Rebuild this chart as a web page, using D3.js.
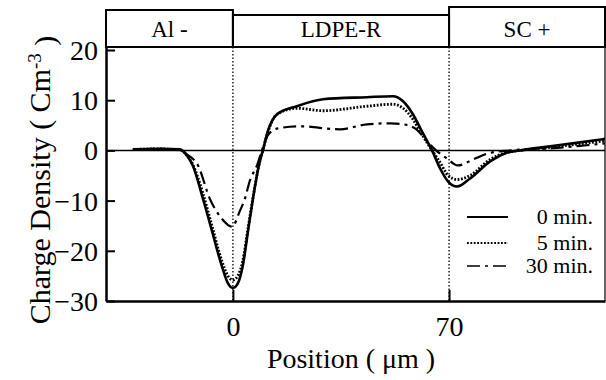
<!DOCTYPE html>
<html>
<head>
<meta charset="utf-8">
<script src="https://cdn.jsdelivr.net/npm/d3@7"></script>
<style>
  body { margin: 0; background: #fff; }
  svg text { font-family: 'Liberation Serif', 'DejaVu Serif', serif; fill: #000; }
</style>
</head>
<body>
<div id="chart"></div>
<script>
// positions in um, charge density in C/m^3
const pos = [-32.4, -23.7, -17.2, -14.9, -13, -9.7, -6.8, -3.6, -1.6, 0, 1.6, 3.2, 4.9, 6.5, 8.4, 9.7,
  11.3, 14.3, 20.7, 29.2, 43.4, 51.8, 55.1, 58.3, 61.2, 64.5, 67.1, 69.7, 72.6, 76.8, 83.3, 88.1,
  93, 102.7, 112.4, 120.5];
const min0 = [0.2, 0.3, 0.2, -1, -3, -9.6, -16, -23, -26.5, -27.4, -26.5, -23, -16, -9.6, -3, 0,
  3.8, 7.2, 8.8, 10.2, 10.6, 10.8, 9.8, 7.2, 3.8, 0, -3.6, -6.2, -7.2, -5.6, -2.2, -0.6,
  0, 0.8, 1.6, 2.3];
const min5 = [0.2, 0.3, 0.1, -1, -2.8, -8.6, -15, -22, -25, -25.8, -25, -22, -15.5, -9.4, -3, 0,
  3.6, 7.2, 8.4, 7.9, 8.8, 9.2, 8.4, 6.2, 3.2, 0, -2.4, -5, -5.8, -5, -1.8, -0.5,
  0, 0.6, 1.3, 1.9];
const pos30 = [-32.4, -23.7, -17.2, -14.9, -11.3, -7.5, -3.6, -0.3, 2.3, 3.9, 5.5, 7.8, 9.4, 11.3,
  14.6, 21.7, 34.7, 43.4, 51.2, 55.1, 59, 62.9, 65.8, 69.3, 72.9, 77.8, 82.6, 90, 102.7, 112.4, 120.5];
const min30 = [0.2, 0.3, 0.1, -0.8, -3, -9.6, -13.6, -15.2, -12, -9.6, -6, -3, 0, 3,
  4.4, 4.8, 4.2, 5.2, 5.4, 5.2, 4.4, 1.8, 0, -1.6, -3, -1.8, -0.6, 0, 0.4, 0.9, 1.4];

const seriesNames = ["0 min.", "5 min.", "30 min."];
const layerNames = ["Al -", "LDPE-R", "SC +"];
const layerEdges = [-41.1, 0, 70, 120.5];
const yTicks = [20, 10, 0, -10, -20, -30];
const xTicks = [0, 70];

const W = 606, H = 380;
const FONT = "'Liberation Serif', 'DejaVu Serif', serif";
const svg = d3.select("#chart").append("svg").attr("width", W).attr("height", H);

const x = d3.scaleLinear().domain([-41.1, 120.5]).range([106, 605]);
const y = d3.scaleLinear().domain([-30, 20.6]).range([301, 47]);

// layer header boxes (different top heights like the original)
const boxTops = [10, 15, 7];
layerNames.forEach((name, i) => {
  const x0 = x(layerEdges[i]), x1 = x(layerEdges[i + 1]);
  svg.append("rect")
    .attr("x", x0).attr("y", boxTops[i])
    .attr("width", x1 - x0).attr("height", y.range()[1] - boxTops[i])
    .attr("fill", "none").attr("stroke", "#000").attr("stroke-width", 2);
  svg.append("text")
    .attr("x", (x0 + x1) / 2).attr("y", 37)
    .attr("text-anchor", "middle")
    .attr("font-family", FONT)
    .style("font-size", "23px")
    .text(name);
});

// interface lines
svg.selectAll("line.iface").data(xTicks).enter().append("line")
  .attr("class", "iface")
  .attr("x1", d => x(d)).attr("x2", d => x(d))
  .attr("y1", y.range()[1]).attr("y2", y.range()[0])
  .attr("stroke", "#000").attr("stroke-width", 1.3)
  .attr("stroke-dasharray", "1.5,2");

// zero line
svg.append("line")
  .attr("x1", x.range()[0]).attr("x2", x.range()[1])
  .attr("y1", y(0)).attr("y2", y(0))
  .attr("stroke", "#000").attr("stroke-width", 1.5);

// right frame
svg.append("line")
  .attr("x1", x.range()[1]).attr("x2", x.range()[1])
  .attr("y1", y.range()[1]).attr("y2", y.range()[0])
  .attr("stroke", "#000").attr("stroke-width", 1.2);

// axes
const yAxis = svg.append("g")
  .attr("transform", `translate(${x.range()[0]},0)`)
  .call(d3.axisLeft(y).tickValues(yTicks).tickSizeInner(-9).tickSizeOuter(0).tickPadding(8).tickFormat(d3.format("d")));
const xAxis = svg.append("g")
  .attr("transform", `translate(0,${y.range()[0]})`)
  .call(d3.axisBottom(x).tickValues(xTicks).tickSizeInner(-11).tickSizeOuter(0).tickPadding(10));
[yAxis, xAxis].forEach(g => {
  g.attr("font-family", FONT).attr("font-size", 28);
  g.select(".domain").attr("stroke-width", 2.5);
  g.selectAll(".tick line").attr("stroke-width", 2);
  g.selectAll(".tick text").attr("fill", "#000");
});
xAxis.selectAll(".tick text").attr("dy", "0.9em");
yAxis.selectAll(".tick text").attr("dy", "0.34em");

// curves
const line = d3.line().x(d => x(d[0])).y(d => y(d[1])).curve(d3.curveMonotoneX);
const styles = [
  { w: 2.6, dash: null },
  { w: 2.8, dash: "1.8,1.6" },
  { w: 2.2, dash: "13,5,3,5" }
];
const series = [
  d3.zip(pos, min0),
  d3.zip(pos, min5),
  d3.zip(pos30, min30)
];
series.forEach((s, i) => {
  svg.append("path")
    .attr("d", line(s))
    .attr("fill", "none").attr("stroke", "#000")
    .attr("stroke-width", styles[i].w)
    .attr("stroke-dasharray", styles[i].dash);
});

// legend
const legY = [217, 243, 266];
seriesNames.forEach((name, i) => {
  svg.append("line")
    .attr("x1", 467).attr("x2", 508)
    .attr("y1", legY[i]).attr("y2", legY[i])
    .attr("stroke", "#000").attr("stroke-width", styles[i].w - 0.6)
    .attr("stroke-dasharray", styles[i].dash);
  svg.append("text")
    .attr("x", 593).attr("y", legY[i] + 7)
    .attr("text-anchor", "end")
    .attr("font-family", FONT)
    .style("font-size", "22px")
    .text(name);
});

// axis titles
svg.append("text")
  .attr("x", 351).attr("y", 368)
  .attr("text-anchor", "middle")
  .attr("font-family", FONT)
  .style("font-size", "28px")
  .text("Position ( \u03bcm )");

const yl = svg.append("text")
  .attr("transform", "translate(50,180) rotate(-90)")
  .attr("text-anchor", "middle")
  .attr("font-family", FONT)
  .style("font-size", "30px");
yl.append("tspan").text("Charge Density ( Cm");
yl.append("tspan").attr("dy", "-0.45em").style("font-size", "19px").text("-3");
yl.append("tspan").attr("dy", "0.45em").text(" )");
</script>
</body>
</html>
